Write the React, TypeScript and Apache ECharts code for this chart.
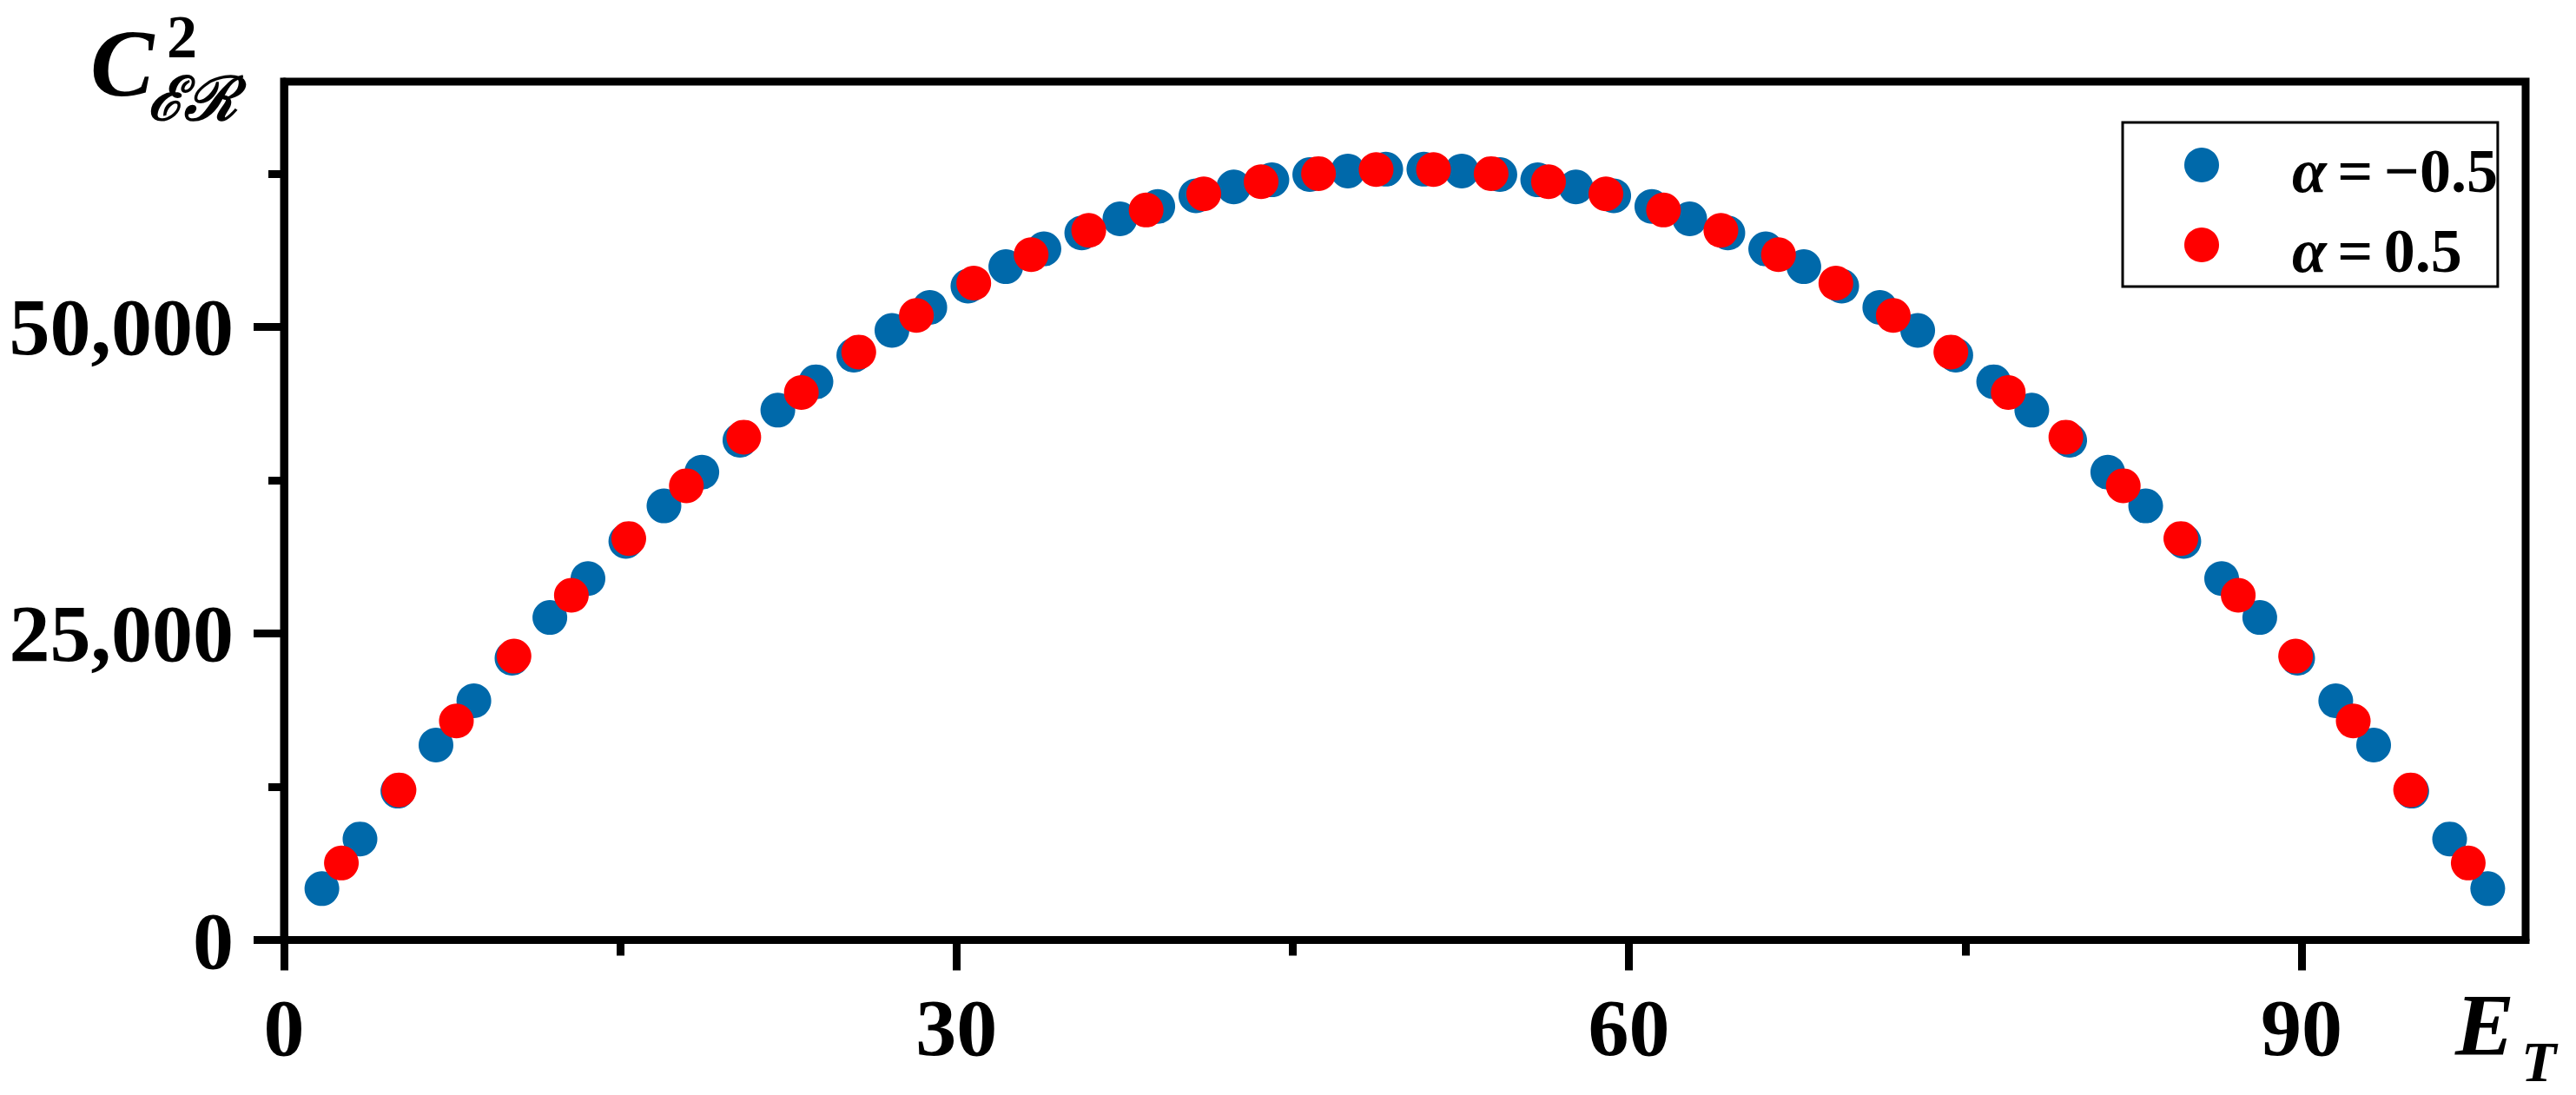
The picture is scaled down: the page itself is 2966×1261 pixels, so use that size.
import React, { useEffect, useRef } from "react";
import * as echarts from "echarts";

const xMajorTicks = [0, 30, 60, 90];
const xMinorTicks = [15, 45, 75];
const yMajorTicks = [0, 25000, 50000];
const yMinorTicks = [12500, 37500, 62500];

const seriesNames = ["α = −0.5", "α = 0.5"];
const seriesColors = ["#0069AA", "#FF0000"];

const blueX = [1.69, 3.39, 5.08, 6.78, 8.47, 10.17, 11.86, 13.56, 15.25, 16.95, 18.64, 20.34, 22.03, 23.73, 25.42, 27.12, 28.81, 30.51, 32.2, 33.9, 35.59, 37.29, 38.98, 40.68, 42.37, 44.07, 45.76, 47.46, 49.15, 50.85, 52.54, 54.24, 55.93, 57.63, 59.32, 61.02, 62.71, 64.41, 66.1, 67.8, 69.49, 71.19, 72.88, 74.58, 76.27, 77.97, 79.66, 81.36, 83.05, 84.75, 86.44, 88.14, 89.83, 91.53, 93.22, 94.92, 96.61, 98.31];
const blueY = [4190, 8240, 12140, 15900, 19510, 22980, 26300, 29480, 32510, 35400, 38150, 40750, 43210, 45520, 47690, 49710, 51590, 53320, 54910, 56360, 57660, 58810, 59820, 60690, 61410, 61990, 62420, 62710, 62860, 62860, 62710, 62420, 61990, 61410, 60690, 59820, 58810, 57660, 56360, 54910, 53320, 51590, 49710, 47690, 45520, 43210, 40750, 38150, 35400, 32510, 29480, 26300, 22980, 19510, 15900, 12140, 8240, 4190];

const redX = [2.56, 5.13, 7.69, 10.26, 12.82, 15.38, 17.95, 20.51, 23.08, 25.64, 28.21, 30.77, 33.33, 35.9, 38.46, 41.03, 43.59, 46.15, 48.72, 51.28, 53.85, 56.41, 58.97, 61.54, 64.1, 66.67, 69.23, 71.79, 74.36, 76.92, 79.49, 82.05, 84.62, 87.18, 89.74, 92.31, 94.87, 97.44];
const redY = [6280, 12240, 17860, 23150, 28110, 32740, 37040, 41010, 44650, 47950, 50930, 53570, 55890, 57870, 59530, 60850, 61840, 62500, 62830, 62830, 62500, 61840, 60850, 59530, 57870, 55890, 53570, 50930, 47950, 44650, 41010, 37040, 32740, 28110, 23150, 17860, 12240, 6280];

const FONT = '"Liberation Serif", "Times New Roman", serif';

function fmtThousands(v: number): string {
  return String(Math.round(v)).replace(/\B(?=(\d{3})+(?!\d))/g, ",");
}

export default function App() {
  const ref = useRef<HTMLDivElement>(null);

  useEffect(() => {
    if (!ref.current) return;
    const chart = echarts.init(ref.current, null, { renderer: "svg" });

    const axisLineStyle = { color: "#000", width: 9 };
    const labelStyle = {
      color: "#000",
      fontFamily: FONT,
      fontWeight: "bold" as const,
      fontSize: 94,
    };

    const option: any = {
      animation: false,
      backgroundColor: "#fff",
      grid: {
        left: 327,
        right: 58,
        top: 94,
        bottom: 178.5,
        show: true,
        borderColor: "#000",
        borderWidth: 9,
        backgroundColor: "transparent",
        containLabel: false,
      },
      legend: {
        orient: "vertical",
        left: 2444,
        top: 141,
        padding: [17, 0, 5, 71],
        borderColor: "#000",
        borderWidth: 3,
        backgroundColor: "#fff",
        itemWidth: 40,
        itemHeight: 40,
        itemGap: 17,
        icon: "circle",
        data: seriesNames,
        formatter: (name: string) =>
          `{i|${name.charAt(0)}}{s| }{b|${name.slice(2, 3)}}{s| }{b|${name.slice(4)}}`,
        textStyle: {
          color: "#000",
          padding: [14, 0, 0, 79],
          lineHeight: 50,
          rich: {
            i: { fontFamily: FONT, fontStyle: "italic", fontWeight: "bold", fontSize: 72, lineHeight: 50, color: "#000" },
            b: { fontFamily: FONT, fontWeight: "bold", fontSize: 72, lineHeight: 50, color: "#000" },
            s: { fontFamily: FONT, fontWeight: "bold", fontSize: 50, lineHeight: 50, color: "#000" },
          },
        },
      },
      xAxis: [
        {
          type: "value",
          min: 0,
          max: 100,
          position: "bottom",
          axisLine: { show: true, onZero: false, lineStyle: axisLineStyle },
          axisTick: { show: true, inside: false, length: 35, lineStyle: axisLineStyle, customValues: xMajorTicks },
          axisLabel: { show: true, margin: 53, customValues: xMajorTicks, ...labelStyle },
          splitLine: { show: false },
        },
        {
          type: "value",
          min: 0,
          max: 100,
          position: "bottom",
          axisLine: { show: false },
          axisTick: { show: true, inside: false, length: 18, lineStyle: axisLineStyle, customValues: xMinorTicks },
          axisLabel: { show: false },
          splitLine: { show: false },
        },
      ],
      yAxis: [
        {
          type: "value",
          min: 0,
          max: 70000,
          position: "left",
          axisLine: { show: true, onZero: false, lineStyle: axisLineStyle },
          axisTick: { show: true, inside: false, length: 35, lineStyle: axisLineStyle, customValues: yMajorTicks },
          axisLabel: { show: true, margin: 58, customValues: yMajorTicks, formatter: (v: number) => fmtThousands(v), ...labelStyle },
          splitLine: { show: false },
        },
        {
          type: "value",
          min: 0,
          max: 70000,
          position: "left",
          axisLine: { show: false },
          axisTick: { show: true, inside: false, length: 18, lineStyle: axisLineStyle, customValues: yMinorTicks },
          axisLabel: { show: false },
          splitLine: { show: false },
        },
      ],
      series: [
        {
          name: seriesNames[0],
          type: "scatter",
          xAxisIndex: 0,
          yAxisIndex: 0,
          symbol: "circle",
          symbolSize: 40,
          itemStyle: { color: seriesColors[0], opacity: 1 },
          data: blueX.map((x, i) => [x, blueY[i]]),
          z: 3,
        },
        {
          name: seriesNames[1],
          type: "scatter",
          xAxisIndex: 0,
          yAxisIndex: 0,
          symbol: "circle",
          symbolSize: 40,
          itemStyle: { color: seriesColors[1], opacity: 1 },
          data: redX.map((x, i) => [x, redY[i]]),
          z: 4,
        },
      ],
      graphic: [
        {
          type: "text",
          x: 104,
          y: 73,
          style: { text: "C", fontFamily: FONT, fontStyle: "italic", fontWeight: "bold", fontSize: 110, fill: "#000", align: "left", verticalAlign: "middle" },
        },
        {
          type: "text",
          x: 192,
          y: 42,
          style: { text: "2", fontFamily: FONT, fontWeight: "bold", fontSize: 70, fill: "#000", align: "left", verticalAlign: "middle" },
        },
        {
          type: "text",
          x: 170,
          y: 114,
          style: { text: "ℰℛ", fontFamily: FONT, fontStyle: "italic", fontWeight: "bold", fontSize: 70, fill: "#000", align: "left", verticalAlign: "middle" },
        },
        {
          type: "text",
          x: 2827,
          y: 1180,
          style: { text: "E", fontFamily: FONT, fontStyle: "italic", fontWeight: "bold", fontSize: 102, fill: "#000", align: "left", verticalAlign: "middle" },
        },
        {
          type: "text",
          x: 2903,
          y: 1222,
          style: { text: "T", fontFamily: FONT, fontStyle: "italic", fontWeight: "bold", fontSize: 66, fill: "#000", align: "left", verticalAlign: "middle" },
        },
      ],
    };

    chart.setOption(option);
    return () => chart.dispose();
  }, []);

  return (
    <div
      ref={ref}
      style={{ position: "fixed", left: 0, top: 0, width: 2966, height: 1261, background: "#fff" }}
    />
  );
}
